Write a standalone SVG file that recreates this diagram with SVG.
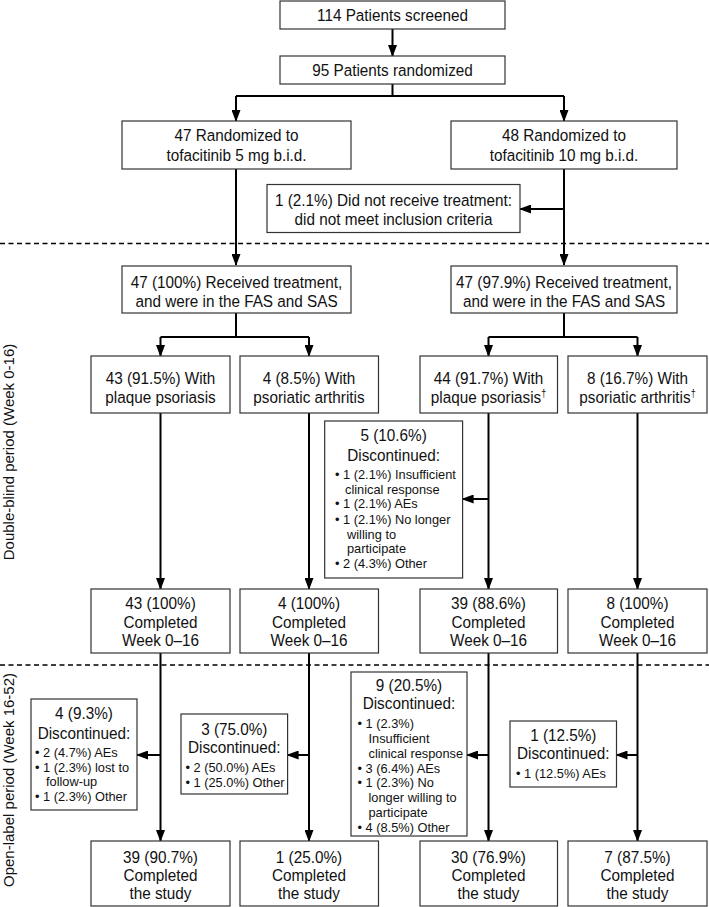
<svg xmlns="http://www.w3.org/2000/svg" width="709" height="907" viewBox="0 0 709 907">
<style>
.box{fill:#fff;stroke:#333;stroke-width:1.2}
.t{font-family:"Liberation Sans",Arial,sans-serif;font-size:17px;fill:#111;text-anchor:middle}
.s{font-family:"Liberation Sans",Arial,sans-serif;font-size:12.8px;fill:#111}
.side{font-family:"Liberation Sans",Arial,sans-serif;font-size:15px;fill:#111;text-anchor:middle}
.c{fill:none;stroke:#000;stroke-width:2}
.a{fill:none;stroke:#000;stroke-width:2;marker-end:url(#ah)}
.dash{stroke:#000;stroke-width:1.5;stroke-dasharray:5 3.5}
</style>
<defs>
<marker id="ah" viewBox="0 0 12 9" refX="11" refY="4.5" markerWidth="12" markerHeight="9" markerUnits="userSpaceOnUse" orient="auto">
<path d="M0,0 L12,4.5 L0,9 z" fill="#000"/>
</marker>
</defs>

<line class="dash" x1="0" y1="243.5" x2="709" y2="243.5"/>
<line class="dash" x1="0" y1="665" x2="709" y2="665"/>

<g id="connectors">
<line class="a" x1="392.5" y1="29" x2="392.5" y2="56"/>
<polyline class="c" points="392.5,84 392.5,96"/>
<polyline class="c" points="236,96 564,96"/>
<line class="a" x1="236" y1="96" x2="236" y2="121"/>
<line class="a" x1="564" y1="96" x2="564" y2="121"/>
<line class="a" x1="236" y1="169" x2="236" y2="265"/>
<line class="a" x1="564" y1="169" x2="564" y2="265"/>
<line class="a" x1="564" y1="209" x2="520" y2="209"/>
<polyline class="c" points="236,313 236,337"/>
<polyline class="c" points="160.5,337 309,337"/>
<line class="a" x1="160.5" y1="337" x2="160.5" y2="356"/>
<line class="a" x1="309" y1="337" x2="309" y2="356"/>
<polyline class="c" points="564,313 564,337"/>
<polyline class="c" points="488.5,337 637.5,337"/>
<line class="a" x1="488.5" y1="337" x2="488.5" y2="356"/>
<line class="a" x1="637.5" y1="337" x2="637.5" y2="356"/>
<line class="a" x1="160.5" y1="413" x2="160.5" y2="589"/>
<line class="a" x1="309" y1="413" x2="309" y2="589"/>
<line class="a" x1="488.5" y1="413" x2="488.5" y2="589"/>
<line class="a" x1="637.5" y1="413" x2="637.5" y2="589"/>
<line class="a" x1="488.5" y1="499" x2="462.6" y2="499"/>
<line class="a" x1="160.5" y1="653" x2="160.5" y2="841"/>
<line class="a" x1="309" y1="653" x2="309" y2="841"/>
<line class="a" x1="488.5" y1="653" x2="488.5" y2="841"/>
<line class="a" x1="637.5" y1="653" x2="637.5" y2="841"/>
<line class="a" x1="160.5" y1="755" x2="137" y2="755"/>
<line class="a" x1="309" y1="755" x2="287.6" y2="755"/>
<line class="a" x1="488.5" y1="755" x2="467" y2="755"/>
<line class="a" x1="637.5" y1="755" x2="616.5" y2="755"/>
</g>

<g id="screened"><rect class="box" x="280" y="1" width="225" height="28"/><text class="t" transform="translate(392.5 21) scale(.9 1)">114 Patients screened</text></g>
<g id="randomized"><rect class="box" x="280" y="56" width="225" height="28"/><text class="t" transform="translate(392.5 76) scale(.9 1)">95 Patients randomized</text></g>

<g id="rand5"><rect class="box" x="122" y="121" width="229" height="48"/><text class="t" transform="translate(236.5 141) scale(.9 1)">47 Randomized to</text><text class="t" transform="translate(236.5 161) scale(.9 1)">tofacitinib 5 mg b.i.d.</text></g>
<g id="rand10"><rect class="box" x="451" y="121" width="226" height="48"/><text class="t" transform="translate(564 141) scale(.9 1)">48 Randomized to</text><text class="t" transform="translate(564 161) scale(.9 1)">tofacitinib 10 mg b.i.d.</text></g>

<g id="notreceived"><rect class="box" x="267" y="184.5" width="253" height="48"/><text class="t" transform="translate(393.5 206) scale(.9 1)">1 (2.1%) Did not receive treatment:</text><text class="t" transform="translate(393.5 224.5) scale(.9 1)">did not meet inclusion criteria</text></g>

<g id="recv5"><rect class="box" x="122" y="266" width="229" height="47"/><text class="t" transform="translate(236.5 288) scale(.9 1)">47 (100%) Received treatment,</text><text class="t" transform="translate(236.5 306.5) scale(.9 1)">and were in the FAS and SAS</text></g>
<g id="recv10"><rect class="box" x="451" y="266" width="226" height="47"/><text class="t" transform="translate(564 288) scale(.9 1)">47 (97.9%) Received treatment,</text><text class="t" transform="translate(564 306.5) scale(.9 1)">and were in the FAS and SAS</text></g>

<g id="pp5"><rect class="box" x="91" y="356" width="139" height="57"/><text class="t" transform="translate(160.5 384) scale(.9 1)">43 (91.5%) With</text><text class="t" transform="translate(160.5 403) scale(.9 1)">plaque psoriasis</text></g>
<g id="pa5"><rect class="box" x="240" y="356" width="138.5" height="57"/><text class="t" transform="translate(309 384) scale(.9 1)">4 (8.5%) With</text><text class="t" transform="translate(309 403) scale(.9 1)">psoriatic arthritis</text></g>
<g id="pp10"><rect class="box" x="420" y="356" width="137.5" height="57"/><text class="t" transform="translate(488.5 384) scale(.9 1)">44 (91.7%) With</text><text class="t" transform="translate(488.5 403) scale(.9 1)">plaque psoriasis<tspan font-size="10" dy="-6">†</tspan></text></g>
<g id="pa10"><rect class="box" x="568" y="356" width="139" height="57"/><text class="t" transform="translate(637.5 384) scale(.9 1)">8 (16.7%) With</text><text class="t" transform="translate(637.5 403) scale(.9 1)">psoriatic arthritis<tspan font-size="10" dy="-6">†</tspan></text></g>

<g id="disc1"><rect class="box" x="324.7" y="421" width="137.9" height="157"/>
<text class="t" transform="translate(393.6 441) scale(.9 1)">5 (10.6%)</text><text class="t" transform="translate(393.6 461) scale(.9 1)">Discontinued:</text>
<text class="s" x="335" y="478.5">• 1 (2.1%) Insufficient</text>
<text class="s" x="345" y="493.5">clinical response</text>
<text class="s" x="335" y="507.5">• 1 (2.1%) AEs</text>
<text class="s" x="335" y="523.5">• 1 (2.1%) No longer</text>
<text class="s" x="347" y="538.5">willing to</text>
<text class="s" x="347" y="552.5">participate</text>
<text class="s" x="335" y="567.5">• 2 (4.3%) Other</text>
</g>

<g id="comp1a"><rect class="box" x="91" y="589" width="139" height="64"/><text class="t" transform="translate(160.5 609) scale(.9 1)">43 (100%)</text><text class="t" transform="translate(160.5 628) scale(.9 1)">Completed</text><text class="t" transform="translate(160.5 646) scale(.9 1)">Week 0–16</text></g>
<g id="comp1b"><rect class="box" x="240" y="589" width="138.5" height="64"/><text class="t" transform="translate(309 609) scale(.9 1)">4 (100%)</text><text class="t" transform="translate(309 628) scale(.9 1)">Completed</text><text class="t" transform="translate(309 646) scale(.9 1)">Week 0–16</text></g>
<g id="comp1c"><rect class="box" x="420" y="589" width="137.5" height="64"/><text class="t" transform="translate(488.5 609) scale(.9 1)">39 (88.6%)</text><text class="t" transform="translate(488.5 628) scale(.9 1)">Completed</text><text class="t" transform="translate(488.5 646) scale(.9 1)">Week 0–16</text></g>
<g id="comp1d"><rect class="box" x="568" y="589" width="139" height="64"/><text class="t" transform="translate(637.5 609) scale(.9 1)">8 (100%)</text><text class="t" transform="translate(637.5 628) scale(.9 1)">Completed</text><text class="t" transform="translate(637.5 646) scale(.9 1)">Week 0–16</text></g>

<g id="disc2a"><rect class="box" x="31" y="699" width="106" height="111"/>
<text class="t" transform="translate(84 719) scale(.9 1)">4 (9.3%)</text><text class="t" transform="translate(84 739) scale(.9 1)">Discontinued:</text>
<text class="s" x="35" y="756.5">• 2 (4.7%) AEs</text>
<text class="s" x="35" y="771.5">• 1 (2.3%) lost to</text>
<text class="s" x="46" y="785.5">follow-up</text>
<text class="s" x="35" y="800.5">• 1 (2.3%) Other</text>
</g>
<g id="disc2b"><rect class="box" x="181" y="714" width="106.6" height="80"/>
<text class="t" transform="translate(234.3 735) scale(.9 1)">3 (75.0%)</text><text class="t" transform="translate(234.3 753) scale(.9 1)">Discontinued:</text>
<text class="s" x="185.5" y="771.5">• 2 (50.0%) AEs</text>
<text class="s" x="185.5" y="786.5">• 1 (25.0%) Other</text>
</g>
<g id="disc2c"><rect class="box" x="351" y="672" width="116" height="164"/>
<text class="t" transform="translate(409 691) scale(.9 1)">9 (20.5%)</text><text class="t" transform="translate(409 709) scale(.9 1)">Discontinued:</text>
<text class="s" x="357.5" y="727.5">• 1 (2.3%)</text>
<text class="s" x="368.5" y="742.5">Insufficient</text>
<text class="s" x="368.5" y="757.5">clinical response</text>
<text class="s" x="357.5" y="772.5">• 3 (6.4%) AEs</text>
<text class="s" x="357.5" y="786.5">• 1 (2.3%) No</text>
<text class="s" x="368.5" y="801.5">longer willing to</text>
<text class="s" x="368.5" y="816.5">participate</text>
<text class="s" x="357.5" y="831.5">• 4 (8.5%) Other</text>
</g>
<g id="disc2d"><rect class="box" x="510" y="721" width="106.5" height="66"/>
<text class="t" transform="translate(563.3 741) scale(.9 1)">1 (12.5%)</text><text class="t" transform="translate(563.3 759) scale(.9 1)">Discontinued:</text>
<text class="s" x="516" y="777.5">• 1 (12.5%) AEs</text>
</g>

<g id="comp2a"><rect class="box" x="91" y="841" width="139" height="65"/><text class="t" transform="translate(160.5 863) scale(.9 1)">39 (90.7%)</text><text class="t" transform="translate(160.5 881) scale(.9 1)">Completed</text><text class="t" transform="translate(160.5 899) scale(.9 1)">the study</text></g>
<g id="comp2b"><rect class="box" x="240" y="841" width="138.5" height="65"/><text class="t" transform="translate(309 863) scale(.9 1)">1 (25.0%)</text><text class="t" transform="translate(309 881) scale(.9 1)">Completed</text><text class="t" transform="translate(309 899) scale(.9 1)">the study</text></g>
<g id="comp2c"><rect class="box" x="420" y="841" width="137.5" height="65"/><text class="t" transform="translate(488.5 863) scale(.9 1)">30 (76.9%)</text><text class="t" transform="translate(488.5 881) scale(.9 1)">Completed</text><text class="t" transform="translate(488.5 899) scale(.9 1)">the study</text></g>
<g id="comp2d"><rect class="box" x="568" y="841" width="139" height="65"/><text class="t" transform="translate(637.5 863) scale(.9 1)">7 (87.5%)</text><text class="t" transform="translate(637.5 881) scale(.9 1)">Completed</text><text class="t" transform="translate(637.5 899) scale(.9 1)">the study</text></g>

<g id="labels">
<text class="side" transform="translate(14 452) rotate(-90)">Double-blind period (Week 0-16)</text>
<text class="side" transform="translate(14 780) rotate(-90)">Open-label period (Week 16-52)</text>
</g>
</svg>
